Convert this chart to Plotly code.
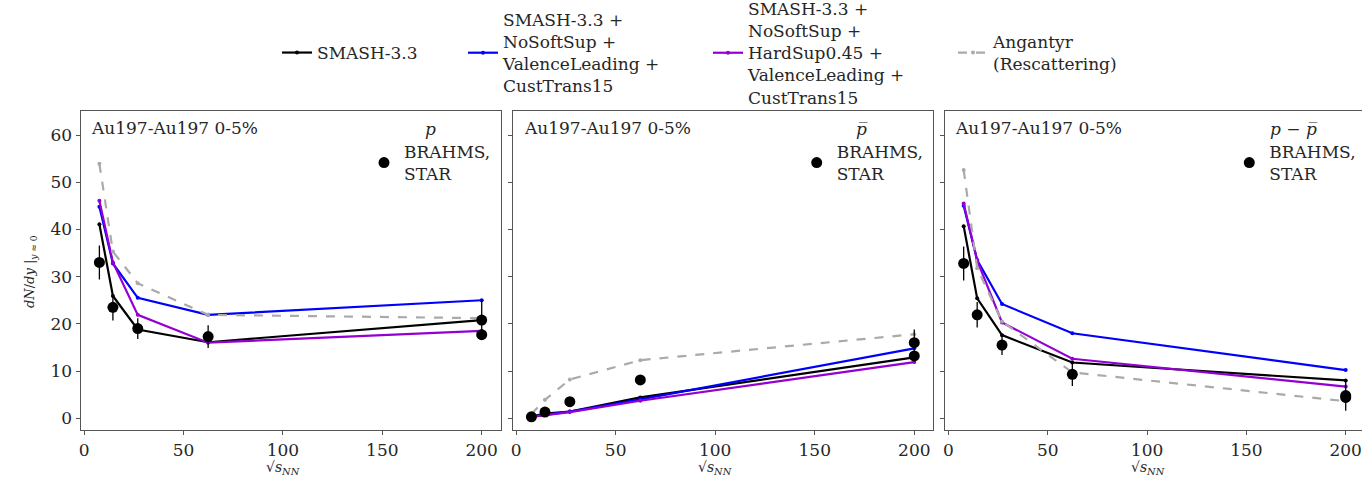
import plotly.graph_objects as go

# ---------------- data ----------------
sqrt_s = [7.7, 14.5, 27, 62.4, 200]

smash_p = [41.1, 25.9, 18.8, 16.1, 20.8]
nosoft_p = [44.8, 32.8, 25.5, 21.9, 25.0]
hardsup_p = [46.1, 33.0, 21.9, 16.0, 18.5]
angantyr_p = [53.9, 35.3, 28.6, 21.9, 21.2]

smash_pbar = [0.35, 1.0, 1.4, 4.4, 12.9]
nosoft_pbar = [0.35, 0.7, 1.4, 4.0, 14.8]
hardsup_pbar = [0.3, 0.7, 1.3, 3.7, 11.9]
angantyr_pbar = [0.9, 3.9, 8.2, 12.3, 17.8]

smash_net = [40.7, 25.4, 17.6, 11.8, 8.0]
nosoft_net = [45.0, 33.5, 24.2, 18.0, 10.2]
hardsup_net = [45.5, 33.4, 20.3, 12.6, 6.7]
angantyr_net = [52.6, 31.8, 20.5, 9.7, 3.6]

data_x = [7.7, 14.5, 27, 62.4, 200, 200]
data_p = [33.0, 23.5, 19.0, 17.3, 20.8, 17.7]
err_p = [3.6, 2.8, 2.2, 2.4, 4.2, 1.0]
data_pbar = [0.3, 1.3, 3.5, 8.1, 16.0, 13.2]
err_pbar = [0.1, 0.2, 0.4, 0.5, 2.8, 1.0]
data_net = [32.8, 21.9, 15.5, 9.3, 4.8, 4.4]
err_net = [3.6, 2.7, 2.1, 2.5, 3.2, 1.0]

model_names = [
    "SMASH-3.3",
    "SMASH-3.3 +<br>NoSoftSup +<br>ValenceLeading +<br>CustTrans15",
    "SMASH-3.3 +<br>NoSoftSup +<br>HardSup0.45 +<br>ValenceLeading +<br>CustTrans15",
    "Angantyr<br>(Rescattering)",
]
panel_species = ["<i>p</i>", "<i>p̅</i>", "<i>p</i> − <i>p̅</i>"]
system_label = "Au197-Au197 0-5%"
data_label = "BRAHMS,<br>STAR"
x_ticks = [0, 50, 100, 150, 200]
y_ticks = [0, 10, 20, 30, 40, 50, 60]

# ---------------- styling ----------------
W, H = 1362, 482
FONT = "DejaVu Serif"
TXT = "#262626"
FRAME = "#555555"
colors = ["#000000", "#0000ff", "#9400d3", "#aaaaaa"]
dashes = ["solid", "solid", "solid", "dash"]

def px(x):
    return x / W

def py(y):
    return 1 - y / H

models = [
    [smash_p, nosoft_p, hardsup_p, angantyr_p],
    [smash_pbar, nosoft_pbar, hardsup_pbar, angantyr_pbar],
    [smash_net, nosoft_net, hardsup_net, angantyr_net],
]
data_sets = [(data_p, err_p), (data_pbar, err_pbar), (data_net, err_net)]

fig = go.Figure()
top_legends = ["legend", "legend2", "legend3", "legend4"]
data_legends = ["legend5", "legend6", "legend7"]

for i in range(3):
    xa = "x" if i == 0 else f"x{i+1}"
    ya = "y" if i == 0 else f"y{i+1}"
    for k in range(4):
        fig.add_trace(go.Scatter(
            x=sqrt_s, y=models[i][k], xaxis=xa, yaxis=ya,
            mode="lines+markers", name=model_names[k],
            line=dict(color=colors[k], width=2.2, dash=dashes[k]),
            marker=dict(color=colors[k], size=4),
            showlegend=(i == 0), legend=top_legends[k],
        ))
    dy, de = data_sets[i]
    fig.add_trace(go.Scatter(
        x=data_x, y=dy, xaxis=xa, yaxis=ya, mode="markers",
        name=data_label,
        marker=dict(color="black", size=11),
        error_y=dict(type="data", array=de, color="black", thickness=1.3, width=0),
        showlegend=True, legend=data_legends[i],
    ))

# domains in pixel terms
dom_x = [(80.7, 501.0), (513.3, 933.0), (945.0, 1362.0)]
rng_x = [[-1.7, 209.7], [-1.4, 209.4], [-1.7, 208.2]]
dom_y = [py(430), py(111)]

axis_common = dict(
    showgrid=False, zeroline=False, showline=True, linecolor=FRAME, linewidth=1.3,
    ticks="outside", ticklen=4, tickcolor=FRAME, tickwidth=1.2, automargin=False,
    tickfont=dict(family=FONT, size=17, color=TXT),
)
layout = {}
for i in range(3):
    xk = "xaxis" if i == 0 else f"xaxis{i+1}"
    yk = "yaxis" if i == 0 else f"yaxis{i+1}"
    layout[xk] = dict(axis_common, domain=[px(dom_x[i][0]), px(dom_x[i][1])],
                      range=rng_x[i], tickvals=x_ticks, mirror=True,
                      anchor="y" if i == 0 else f"y{i+1}")
    layout[yk] = dict(axis_common, domain=dom_y, range=[-2.5, 65.1],
                      tickvals=y_ticks, mirror=(i < 2),
                      showticklabels=(i == 0),
                      anchor="x" if i == 0 else f"x{i+1}")
fig.update_layout(**layout)

# legends
leg_font = dict(family=FONT, size=17, color=TXT)
top_text_x = [317, 503, 748, 993]
for k in range(4):
    fig.update_layout(**{top_legends[k]: dict(
        x=px(top_text_x[k] - 40), y=py(53), xanchor="left", yanchor="middle",
        xref="container", yref="container",
        bgcolor="rgba(0,0,0,0)", font=leg_font, orientation="v",
        tracegroupgap=0)})
data_text_x = [404, 836.7, 1269.3]
for i in range(3):
    fig.update_layout(**{data_legends[i]: dict(
        x=px(data_text_x[i] - 40), y=py(163), xanchor="left", yanchor="middle",
        xref="container", yref="container",
        bgcolor="rgba(0,0,0,0)", font=leg_font)})

ann = []
sys_x = [89.3, 521.7, 953.3]
spec_x = [430, 861.7, 1293]
xlab_x = [283, 715, 1148]
for i in range(3):
    ann.append(dict(text=system_label, x=px(sys_x[i]), y=py(128), xref="paper", yref="paper",
                    xanchor="left", yanchor="middle", showarrow=False,
                    font=dict(family=FONT, size=17, color=TXT)))
    ann.append(dict(text=panel_species[i], x=px(spec_x[i]), y=py(129), xref="paper", yref="paper",
                    xanchor="center", yanchor="middle", showarrow=False,
                    font=dict(family=FONT, size=17, color=TXT)))
    ann.append(dict(text="√<i>s</i><sub><i>NN</i></sub>", x=px(xlab_x[i]), y=py(468),
                    xref="paper", yref="paper", xanchor="center", yanchor="middle",
                    showarrow=False, font=dict(family=FONT, size=14, color=TXT)))
ann.append(dict(text="<i>dN</i>/<i>dy</i> |<sub><i>y</i> ≈ 0</sub>", x=px(30), y=py(272),
                xref="paper", yref="paper", xanchor="center", yanchor="middle",
                textangle=-90, showarrow=False, font=dict(family=FONT, size=13, color=TXT)))

fig.update_layout(
    template="none",
    width=W, height=H, margin=dict(l=0, r=0, t=0, b=0, autoexpand=False),
    paper_bgcolor="white", plot_bgcolor="white",
    annotations=ann, font=dict(family=FONT, color=TXT),
)

fig.write_html(
    "out.html",
    config={"displayModeBar": False},
    post_script="document.body.style.margin='0';document.body.style.overflow='hidden';",
)
